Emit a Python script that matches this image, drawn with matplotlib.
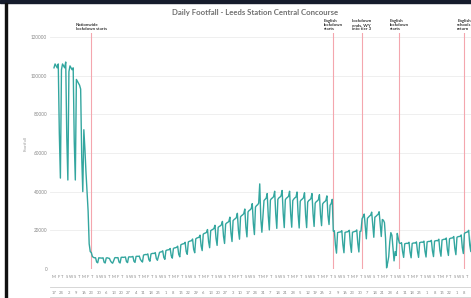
import pandas as pd
import matplotlib
matplotlib.use('Agg')
import matplotlib.pyplot as plt
from matplotlib.patches import Rectangle
from matplotlib.ticker import FixedLocator, FixedFormatter

plt.rcParams['font.family'] = ['Lato', 'DejaVu Sans']

# daily footfall in thousands, one row per week (Mon..Sun), from Mon 17 Feb 2020
start = '2020-02-17'
footfall_k = [
    104, 106, 105, 104, 106, 70, 47,
    103, 106, 105, 104, 107, 68, 46,
    102, 105, 104, 103, 104, 66, 46,
    98, 97, 96, 95, 93, 58, 40,
    72, 62, 50, 40, 30, 13, 9,
    8.5, 6.5, 6.0, 5.8, 5.8, 3.6, 3.2,
    5.8, 5.7, 5.7, 5.6, 5.8, 3.5, 3.1,
    5.7, 5.8, 5.6, 5.5, 4.2, 3.4, 3.0,
    4.3, 5.8, 5.9, 5.8, 5.9, 3.6, 3.1,
    6.0, 6.1, 6.0, 6.1, 6.2, 3.8, 3.3,
    6.2, 6.3, 6.2, 6.3, 6.5, 4.0, 3.4,
    6.5, 6.6, 6.5, 6.7, 5.0, 4.2, 3.6,
    7.2, 7.4, 7.5, 7.4, 7.8, 4.8, 4.0,
    7.8, 8.0, 8.1, 8.0, 8.5, 5.4, 4.5,
    6.5, 8.6, 8.8, 8.9, 9.4, 6.0, 5.0,
    9.5, 9.8, 9.9, 10.0, 10.6, 6.8, 5.6,
    10.6, 10.9, 11.0, 11.2, 11.8, 7.6, 6.3,
    12.5, 12.8, 13.0, 13.1, 13.8, 9.0, 7.6,
    14.0, 14.3, 14.5, 14.6, 15.5, 10.2, 8.4,
    15.6, 16.0, 16.2, 16.4, 17.5, 12.0, 9.5,
    18.0, 18.4, 18.6, 18.9, 20.4, 14.2, 11.0,
    19.8, 20.2, 20.5, 20.9, 22.6, 15.8, 12.2,
    21.5, 22.0, 22.3, 22.8, 24.6, 17.0, 13.2,
    23.2, 23.8, 24.1, 24.6, 26.8, 18.6, 14.2,
    25.0, 25.6, 26.0, 26.5, 28.8, 20.0, 15.4,
    27.0, 27.6, 28.0, 28.6, 31.0, 21.6, 16.6,
    29.5, 30.2, 30.6, 31.2, 33.8, 23.4, 17.8,
    32.0, 32.8, 33.2, 34.0, 44.0, 26.0, 19.0,
    27.0, 35.4, 36.0, 36.6, 39.0, 27.5, 20.2,
    35.6, 36.4, 36.8, 37.4, 40.2, 28.4, 21.0,
    36.0, 36.8, 37.2, 37.8, 40.6, 28.8, 21.4,
    35.8, 36.6, 37.0, 37.6, 40.2, 28.6, 21.6,
    35.4, 36.2, 36.8, 37.2, 39.8, 28.2, 21.2,
    35.0, 35.8, 36.2, 36.8, 39.4, 28.0, 21.4,
    34.6, 35.4, 35.8, 36.4, 39.0, 28.6, 22.0,
    34.0, 34.8, 35.2, 35.8, 38.4, 28.0, 22.4,
    33.6, 34.4, 34.8, 35.4, 37.8, 27.6, 23.0,
    33.0, 33.8, 36.0, 19.6, 19.8, 12.4, 8.2,
    18.8, 19.0, 19.1, 19.2, 19.8, 12.6, 8.4,
    18.9, 19.1, 19.2, 19.4, 20.0, 12.8, 8.6,
    19.0, 19.2, 19.4, 19.5, 20.2, 13.2, 8.8,
    19.4, 19.6, 26.0, 27.0, 28.4, 22.0, 15.6,
    26.2, 26.8, 27.4, 27.8, 29.4, 23.0, 16.4,
    26.8, 27.2, 27.8, 28.2, 29.6, 23.4, 16.8,
    25.6, 25.2, 24.0, 16.0, 0.6, 3.2, 6.4,
    14.2, 18.8, 17.4, 11.0, 4.2, 9.0, 7.0,
    18.4, 15.6, 13.4, 13.2, 13.6, 9.0, 6.0,
    13.0, 13.2, 13.3, 13.2, 13.8, 8.8, 5.8,
    13.2, 13.4, 13.5, 13.4, 14.0, 9.0, 6.0,
    13.6, 13.8, 13.9, 13.8, 14.4, 9.2, 6.2,
    14.0, 14.2, 14.3, 14.2, 14.8, 9.4, 6.4,
    14.4, 14.6, 14.7, 14.6, 15.4, 9.6, 6.6,
    15.0, 15.2, 15.4, 15.4, 16.0, 10.0, 7.0,
    15.6, 15.9, 16.0, 16.1, 16.8, 10.6, 7.4,
    16.4, 16.7, 16.8, 16.9, 17.6, 11.2, 8.0,
    18.4, 18.8, 19.0, 19.2, 20.0, 12.4, 9.0,
    19.4, 19.8, 20.0, 20.2, 21.0, 13.2, 9.6,
]

event_dates = ['2020-03-23', '2020-11-05', '2020-12-02', '2021-01-06', '2021-03-08']
event_labels = ['Nationwide\nlockdown starts',
                'English\nlockdown\nstarts',
                'Lockdown\nends, WY\ninto tier 3',
                'English\nlockdown\nstarts',
                'English\nschools\nreturn']
y_ticks = [0, 20000, 40000, 60000, 80000, 100000, 120000]
last_label_day = '2021-03-13'

days = pd.date_range(start, periods=len(footfall_k), freq='D')
values = [v * 1000 for v in footfall_k]

W, H = 471, 298
fig = plt.figure(figsize=(W / 100, H / 100), dpi=100)
ax = fig.add_axes([50 / W, 29 / H, 440 / W, 236 / H])

ax.plot(days, values, color='#33a69f', lw=1.0, zorder=3)
for d in event_dates:
    ax.axvline(pd.Timestamp(d), color='#f4a6ae', lw=0.8, zorder=2)
for d, lab in zip(event_dates, event_labels):
    ax.text(pd.Timestamp(d), 1.008, lab, transform=ax.get_xaxis_transform(),
            ha='center', va='bottom', multialignment='left', fontsize=3.2,
            fontweight='bold', color='#333333', linespacing=1.0)

ax.set_xlim(days[0] - pd.Timedelta(days=3.75), days[0] + pd.Timedelta(days=409))
ax.set_ylim(0, 122000)
ax.set_yticks(y_ticks)
ax.set_yticklabels([str(t) for t in y_ticks])
ax.grid(axis='y', color='#ececec', lw=0.6, zorder=0)
for s in ax.spines.values():
    s.set_visible(False)
ax.tick_params(axis='y', length=0, pad=2, labelsize=3.3, labelcolor='#888888')
ax.set_ylabel('Footfall', fontsize=3.2, color='#999999')
ax.yaxis.set_label_coords(-22 / 440, 0.53)

# two header rows: weekday letters and Monday day numbers
shown = days[days <= pd.Timestamp(last_label_day)]
mondays = shown[::7]
letter_days = shown[::4]
ax.xaxis.remove_overlapping_locs = False
ax.xaxis.set_major_locator(FixedLocator(matplotlib.dates.date2num(mondays)))
ax.xaxis.set_major_formatter(FixedFormatter([str(d.day) for d in mondays]))
ax.xaxis.set_minor_locator(FixedLocator(matplotlib.dates.date2num(letter_days)))
ax.xaxis.set_minor_formatter(FixedFormatter([d.strftime('%a')[0] for d in letter_days]))
ax.tick_params(axis='x', which='major', length=0, pad=15.5, labelsize=3.0, labelcolor='#888888')
ax.tick_params(axis='x', which='minor', length=0, pad=4.3, labelsize=3.0, labelcolor='#888888')
for yy in (-18 / 236, -28 / 236):
    ax.plot([0, 1], [yy, yy], transform=ax.transAxes, clip_on=False, color='#d0d0d0', lw=0.6)

fig.text(255 / W, 1 - 13 / H, 'Daily Footfall - Leeds Station Central Concourse',
         ha='center', va='center', fontsize=5.6, fontweight='bold', color='#707070')

# dark frame edges from the screenshot
fig.patches.append(Rectangle((0, 1 - 3 / H), 1, 3 / H, transform=fig.transFigure, color='#161c2c'))
fig.patches.append(Rectangle((5 / W, 0), 2 / W, 1 - 3 / H, transform=fig.transFigure, color='#111111'))

fig.savefig('out.png', dpi=100)
